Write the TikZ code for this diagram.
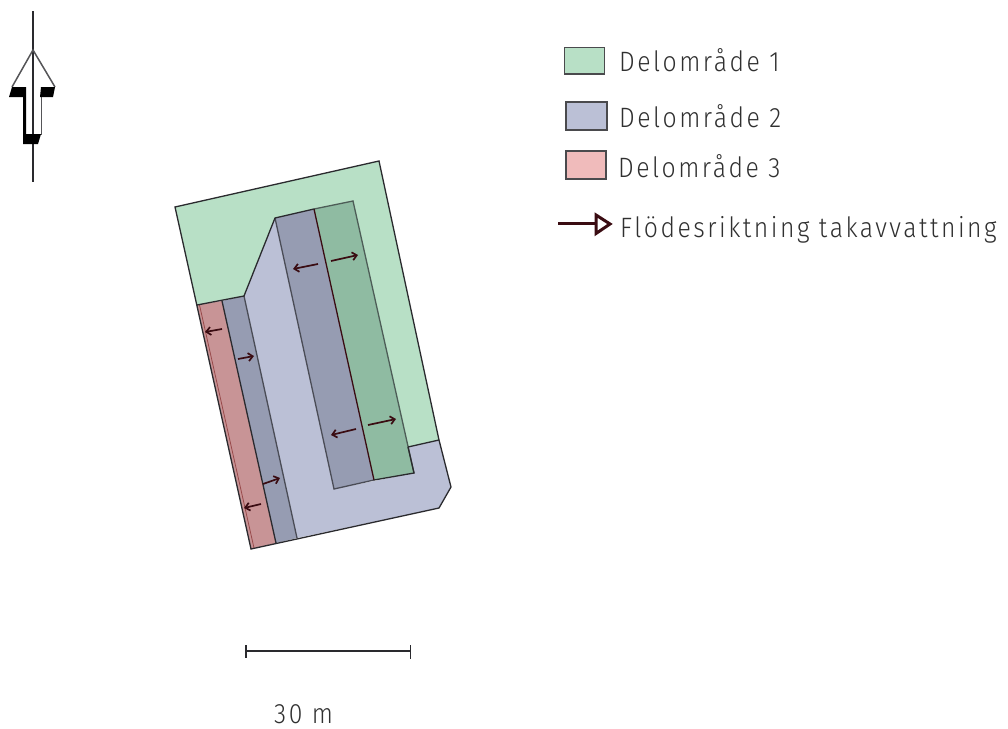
\documentclass[tikz,border=0pt]{standalone}
\usepackage{fontspec}
\setmainfont{Fira Sans Light}[FakeStretch=0.885,LetterSpace=9]
\usetikzlibrary{arrows.meta}
\definecolor{gA}{HTML}{B8E0C6}
\definecolor{gB}{HTML}{8FBBA2}
\definecolor{bA}{HTML}{BBC0D6}
\definecolor{bB}{HTML}{969CB2}
\definecolor{rA}{HTML}{C89496}
\definecolor{rL}{HTML}{F0BBBB}
\definecolor{flow}{HTML}{3A0C12}
\definecolor{ink}{HTML}{2A2A2E}
\definecolor{txt}{HTML}{303030}
\tikzset{
  plan/.style={draw=ink,line width=1.3pt,line join=miter},
  edgeB/.style={draw=ink!70!bB,line width=1.3pt},
  edgeG/.style={draw=ink!65!gB,line width=1.3pt},
  flowarrow/.style={draw=flow,line width=1.7pt,-{Straight Barb[length=4.5pt,width=8pt]}},
  legbox/.style={draw=ink!85,line width=1.3pt},
  legtext/.style={anchor=base west,inner sep=0pt,text=txt,font=\fontsize{28}{28}\selectfont},
  scalebar/.style={draw=ink,line width=1.2pt}
}
\begin{document}
\begin{tikzpicture}[x=1pt,y=-1pt]
\useasboundingbox (0,0) rectangle (1008,728);
% plan
\fill[gA] (175,207) -- (379,161) -- (439,440) -- (408,447) -- (414,473) -- (374,480) -- (314,209) -- (275,218) -- (244,296) -- (197,305) -- cycle;
\fill[bA] (244,296) -- (275,218) -- (334,489) -- (414,473) -- (408,447) -- (439,440) -- (451,487) -- (439,508) -- (297,538) -- cycle;
\fill[rA] (197,305) -- (222,301) -- (276,543) -- (251,549) -- cycle;
\fill[bB] (222,301) -- (244,296) -- (297,538) -- (276,543) -- cycle;
\fill[bB] (275,218) -- (314,209) -- (374,480) -- (334,489) -- cycle;
\fill[gB] (314,209) -- (353,201) -- (414,473) -- (374,480) -- cycle;
\draw[edgeB] (244,296) -- (297,538);
\draw[edgeB] (275,218) -- (334,489) -- (374,480);
\draw[edgeG] (314,209) -- (353,201) -- (414,473);
\draw[draw=flow,line width=1.3pt] (314,209) -- (374,480);
\draw[draw=rA!70!red!70!black,line width=0.8pt] (199.5,305) -- (254,548);
\draw[plan] (197,305) -- (244,296) -- (275,218) -- (314,209);
\draw[plan] (175,207) -- (379,161) -- (439,440) -- (451,487) -- (439,508) -- (251,549) -- cycle;
\draw[plan] (408,447) -- (439,440);
\draw[plan] (408,447) -- (414,473) -- (374,480);
\draw[plan] (222,301) -- (276,543);
% flow arrows
\draw[flowarrow] (222,329) -- (205,332);
\draw[flowarrow] (318,264) -- (293,269);
\draw[flowarrow] (331,261) -- (358,255);
\draw[flowarrow] (238,359) -- (254,356);
\draw[flowarrow] (263,484) -- (280,478);
\draw[flowarrow] (261,504) -- (244,508);
\draw[flowarrow] (356,429) -- (331,435);
\draw[flowarrow] (368,425) -- (396,419);
% north arrow
\draw[line width=1.2pt,draw=ink] (33,11) -- (33,182);
\draw[draw=ink!80,line width=1.5pt] (12,87) -- (33,50) -- (55,87);
\draw[draw=ink!80,line width=1.5pt] (41.5,87) -- (41.5,135);
\fill[black] (12,87) -- (26,87) -- (26,134) -- (41,134) -- (38,144) -- (23,144) -- (23,97) -- (9,97) -- cycle;
\fill[black] (41,87) -- (55,87) -- (53,97) -- (40,97) -- cycle;
% legend
\draw[legbox,fill=gA] (564.5,47.5) rectangle (604.5,74);
\draw[legbox,fill=bA] (566,102) rectangle (607,130);
\draw[legbox,fill=rL] (566,151) rectangle (606,179);
\node[legtext] (t1) at (619,71) {Delomr\r{a}de 1};
\node[legtext] (t2) at (619,127) {Delomr\r{a}de 2};
\node[legtext] (t3) at (618,177) {Delomr\r{a}de 3};
\node[legtext] (t4) at (620,237) {Flödesriktning takavvattning};
\draw[draw=flow,line width=3pt] (558,223.5) -- (595,223.5);
\draw[draw=flow,line width=3pt,fill=white,line join=miter] (596,215) -- (610,224) -- (596,233.5) -- cycle;
% scale
\draw[scalebar] (246,651) -- (410.5,651);
\draw[scalebar] (246,645) -- (246,658);
\draw[scalebar] (410.5,645) -- (410.5,659);
\node[legtext] (t5) at (274,723) {30 m};
\end{tikzpicture}
\end{document}
